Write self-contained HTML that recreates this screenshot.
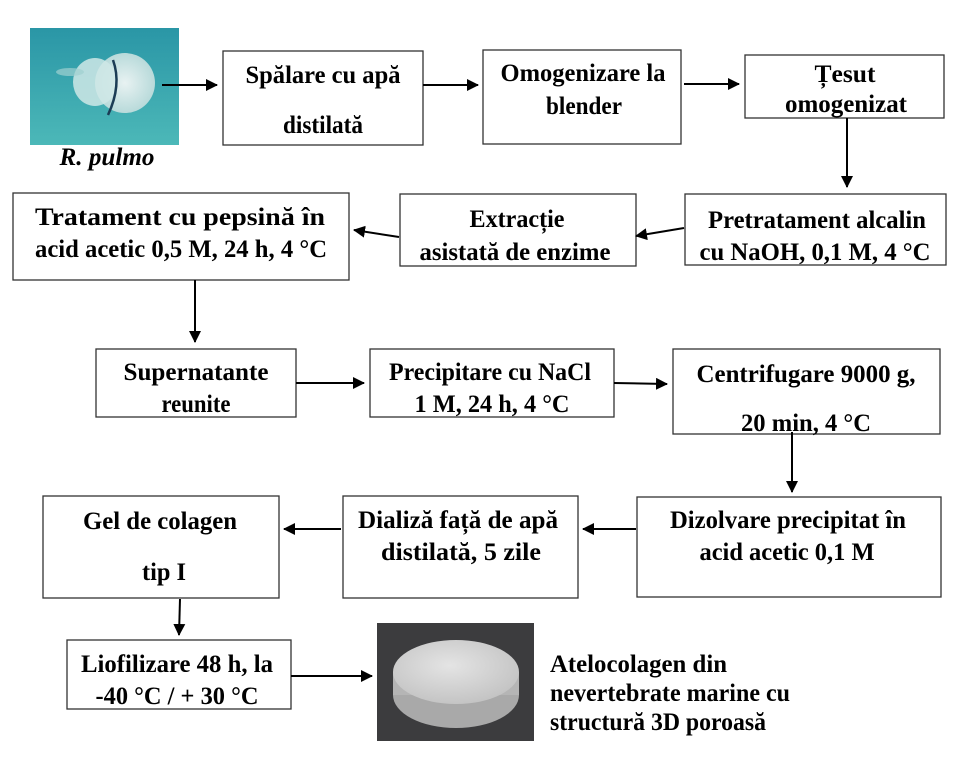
<!DOCTYPE html>
<html><head><meta charset="utf-8"><style>
html,body{margin:0;padding:0;background:#fff;}
svg{display:block;}
text{font-family:"Liberation Serif",serif;font-weight:bold;font-size:25px;fill:#000;}
rect.b{fill:#fff;stroke:#333;stroke-width:1.3;}
line{stroke:#000;stroke-width:2;}
</style></head><body>
<svg width="976" height="777" viewBox="0 0 976 777" xmlns="http://www.w3.org/2000/svg">
<defs>
<marker id="a" markerWidth="12" markerHeight="12" refX="11" refY="6" orient="auto" markerUnits="userSpaceOnUse">
<path d="M0,0 L12,6 L0,12 z" fill="#000"/></marker>
<radialGradient id="jf" cx="0.5" cy="0.5" r="0.5"><stop offset="0" stop-color="#e8f2f2"/><stop offset="1" stop-color="#b8dada"/></radialGradient>
<linearGradient id="sea" x1="0" y1="0" x2="0" y2="1"><stop offset="0" stop-color="#2a96a6"/><stop offset="1" stop-color="#4cb8b8"/></linearGradient>
<radialGradient id="disk" cx="0.45" cy="0.4" r="0.6"><stop offset="0" stop-color="#e4e4e4"/><stop offset="1" stop-color="#c4c4c4"/></radialGradient>
</defs>
<rect x="30" y="28" width="149" height="117" fill="url(#sea)"/>
<ellipse cx="125" cy="83" rx="30" ry="30" fill="url(#jf)"/>
<ellipse cx="95" cy="82" rx="22" ry="24" fill="#cfe7e6" opacity="0.85"/>
<ellipse cx="70" cy="72" rx="14" ry="4" fill="#9fd0d0" opacity="0.7"/>
<path d="M113,60 Q122,85 108,115" stroke="#1b3c55" stroke-width="2.5" fill="none"/>
<text x="107" y="165" text-anchor="middle" font-style="italic" textLength="95" lengthAdjust="spacingAndGlyphs">R. pulmo</text>

<rect class="b" x="223" y="51" width="200" height="94"/>
<text x="323" y="83" text-anchor="middle" textLength="155" lengthAdjust="spacingAndGlyphs">Spălare cu apă</text>
<text x="323" y="133" text-anchor="middle" textLength="80" lengthAdjust="spacingAndGlyphs">distilată</text>

<rect class="b" x="483" y="50" width="198" height="94"/>
<text x="583" y="81" text-anchor="middle" textLength="165" lengthAdjust="spacingAndGlyphs">Omogenizare la</text>
<text x="584" y="114" text-anchor="middle" textLength="76" lengthAdjust="spacingAndGlyphs">blender</text>

<rect class="b" x="745" y="55" width="199" height="63"/>
<text x="845" y="82" text-anchor="middle" textLength="61" lengthAdjust="spacingAndGlyphs">Țesut</text>
<text x="846" y="112" text-anchor="middle" textLength="122" lengthAdjust="spacingAndGlyphs">omogenizat</text>

<rect class="b" x="685" y="194" width="261" height="71"/>
<text x="817" y="228" text-anchor="middle" textLength="218" lengthAdjust="spacingAndGlyphs">Pretratament alcalin</text>
<text x="815" y="260" text-anchor="middle" textLength="231" lengthAdjust="spacingAndGlyphs">cu NaOH,  0,1 M, 4 °C</text>

<rect class="b" x="400" y="194" width="236" height="72"/>
<text x="517" y="227" text-anchor="middle" textLength="95" lengthAdjust="spacingAndGlyphs">Extracție</text>
<text x="515" y="260" text-anchor="middle" textLength="191" lengthAdjust="spacingAndGlyphs">asistată de enzime</text>

<rect class="b" x="13" y="193" width="336" height="87"/>
<text x="180" y="225" text-anchor="middle" textLength="290" lengthAdjust="spacingAndGlyphs">Tratament  cu pepsină în</text>
<text x="181" y="257" text-anchor="middle" textLength="292" lengthAdjust="spacingAndGlyphs">acid acetic 0,5 M, 24 h, 4 °C</text>

<rect class="b" x="96" y="349" width="200" height="68"/>
<text x="196" y="380" text-anchor="middle" textLength="145" lengthAdjust="spacingAndGlyphs">Supernatante</text>
<text x="196" y="412" text-anchor="middle" textLength="69" lengthAdjust="spacingAndGlyphs">reunite</text>

<rect class="b" x="370" y="349" width="244" height="68"/>
<text x="490" y="380" text-anchor="middle" textLength="202" lengthAdjust="spacingAndGlyphs">Precipitare cu NaCl</text>
<text x="492" y="412" text-anchor="middle" textLength="155" lengthAdjust="spacingAndGlyphs">1 M, 24 h, 4 °C</text>

<rect class="b" x="673" y="349" width="267" height="85"/>
<text x="806" y="382" text-anchor="middle" textLength="219" lengthAdjust="spacingAndGlyphs">Centrifugare 9000 g,</text>
<text x="806" y="431" text-anchor="middle" textLength="130" lengthAdjust="spacingAndGlyphs">20 min, 4 °C</text>

<rect class="b" x="637" y="497" width="304" height="100"/>
<text x="788" y="528" text-anchor="middle" textLength="236" lengthAdjust="spacingAndGlyphs">Dizolvare precipitat în</text>
<text x="787" y="560" text-anchor="middle" textLength="175" lengthAdjust="spacingAndGlyphs">acid acetic 0,1 M</text>

<rect class="b" x="343" y="496" width="235" height="102"/>
<text x="458" y="528" text-anchor="middle" textLength="200" lengthAdjust="spacingAndGlyphs">Dializă  față de apă</text>
<text x="461" y="560" text-anchor="middle" textLength="160" lengthAdjust="spacingAndGlyphs">distilată, 5 zile</text>

<rect class="b" x="43" y="496" width="236" height="102"/>
<text x="160" y="529" text-anchor="middle" textLength="154" lengthAdjust="spacingAndGlyphs">Gel de colagen</text>
<text x="164" y="580" text-anchor="middle" textLength="44" lengthAdjust="spacingAndGlyphs">tip I</text>

<rect class="b" x="67" y="640" width="224" height="69"/>
<text x="177" y="672" text-anchor="middle" textLength="192" lengthAdjust="spacingAndGlyphs">Liofilizare 48 h, la</text>
<text x="177" y="704" text-anchor="middle" textLength="163" lengthAdjust="spacingAndGlyphs">-40 °C / + 30 °C</text>

<rect x="377" y="623" width="157" height="118" fill="#3c3c3e"/>
<ellipse cx="456" cy="695" rx="63" ry="33" fill="#a9a9a9"/>
<rect x="393" y="672" width="126" height="23" fill="#b5b5b5"/>
<ellipse cx="456" cy="672" rx="63" ry="32" fill="url(#disk)"/>
<text x="550" y="672" textLength="177" lengthAdjust="spacingAndGlyphs">Atelocolagen din</text>
<text x="550" y="701" textLength="240" lengthAdjust="spacingAndGlyphs">nevertebrate marine cu</text>
<text x="550" y="730" textLength="216" lengthAdjust="spacingAndGlyphs">structură 3D poroasă</text>

<line x1="162" y1="85" x2="217" y2="85" marker-end="url(#a)"/>
<line x1="423" y1="85" x2="478" y2="85" marker-end="url(#a)"/>
<line x1="684" y1="84" x2="739" y2="84" marker-end="url(#a)"/>
<line x1="847" y1="118" x2="847" y2="187" marker-end="url(#a)"/>
<line x1="684" y1="228" x2="636" y2="236" marker-end="url(#a)"/>
<line x1="399" y1="237" x2="354" y2="230" marker-end="url(#a)"/>
<line x1="195" y1="280" x2="195" y2="342" marker-end="url(#a)"/>
<line x1="296" y1="383" x2="364" y2="383" marker-end="url(#a)"/>
<line x1="614" y1="383" x2="667" y2="384" marker-end="url(#a)"/>
<line x1="792" y1="432" x2="792" y2="492" marker-end="url(#a)"/>
<line x1="636" y1="529" x2="583" y2="529" marker-end="url(#a)"/>
<line x1="341" y1="529" x2="284" y2="529" marker-end="url(#a)"/>
<line x1="180" y1="599" x2="179" y2="635" marker-end="url(#a)"/>
<line x1="291" y1="676" x2="372" y2="676" marker-end="url(#a)"/>
</svg>
</body></html>
